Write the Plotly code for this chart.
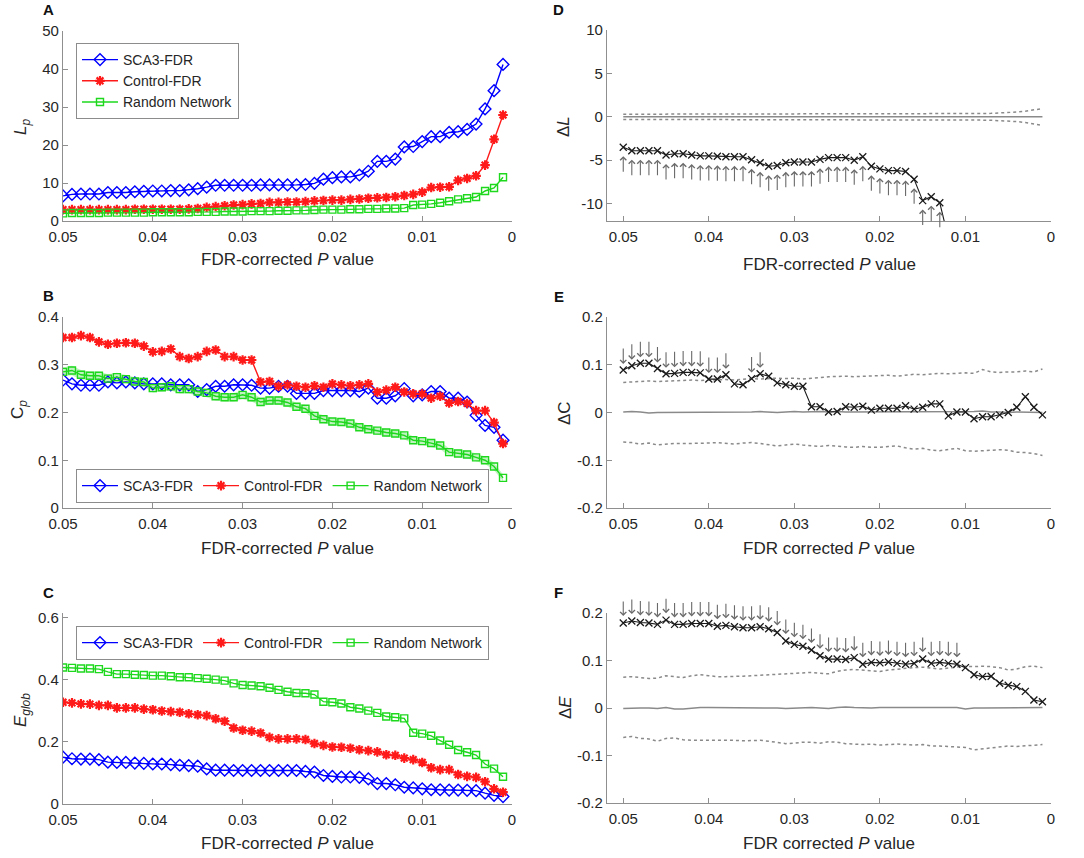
import plotly.graph_objects as go

W, H = 1084, 858

# ---------------- data ----------------
P_VALUES = [0.050, 0.049, 0.048, 0.047, 0.046, 0.045, 0.044, 0.043, 0.042, 0.041,
            0.040, 0.039, 0.038, 0.037, 0.036, 0.035, 0.034, 0.033, 0.032, 0.031,
            0.030, 0.029, 0.028, 0.027, 0.026, 0.025, 0.024, 0.023, 0.022, 0.021,
            0.020, 0.019, 0.018, 0.017, 0.016, 0.015, 0.014, 0.013, 0.012, 0.011,
            0.010, 0.009, 0.008, 0.007, 0.006, 0.005, 0.004, 0.003, 0.002, 0.001]

X_TICKS = [0.05, 0.04, 0.03, 0.02, 0.01, 0]
X_TICK_LABELS = ["0.05", "0.04", "0.03", "0.02", "0.01", "0"]

# Panel A: characteristic path length Lp
A_SCA3 = [6.6, 7.0, 7.1, 7.1, 7.1, 7.5, 7.5, 7.5, 7.7, 7.8, 7.9, 7.9, 8.0, 8.0, 8.2,
          8.5, 8.9, 9.4, 9.4, 9.4, 9.4, 9.4, 9.5, 9.5, 9.5, 9.5, 9.5, 9.6, 9.9, 11.0,
          11.4, 11.6, 11.6, 12.1, 13.1, 15.7, 15.7, 16.3, 19.5, 19.6, 20.9, 22.2, 22.2, 23.3, 23.5,
          24.1, 25.5, 29.5, 34.3, 41.2]
A_CTRL = [3.0, 3.0, 3.0, 3.0, 3.0, 3.0, 3.0, 3.0, 3.1, 3.1, 3.1, 3.1, 3.1, 3.1, 3.2,
          3.3, 3.6, 3.8, 4.0, 4.2, 4.3, 4.5, 4.6, 4.9, 4.9, 5.0, 5.0, 5.1, 5.3, 5.4,
          5.5, 5.5, 5.7, 5.8, 6.0, 6.1, 6.2, 6.4, 6.7, 7.0, 7.6, 8.8, 8.9, 9.0, 10.7,
          11.2, 11.9, 14.7, 21.5, 27.9]
A_RAND = [2.0, 2.1, 2.1, 2.1, 2.1, 2.2, 2.2, 2.2, 2.2, 2.2, 2.3, 2.3, 2.3, 2.3, 2.3,
          2.4, 2.4, 2.4, 2.5, 2.5, 2.5, 2.6, 2.6, 2.6, 2.7, 2.7, 2.8, 2.8, 2.9, 3.0,
          3.0, 3.0, 3.1, 3.1, 3.2, 3.2, 3.3, 3.3, 3.4, 4.2, 4.3, 4.5, 4.8, 5.2, 5.7,
          6.0, 6.3, 7.9, 8.7, 11.5]
A_Y_TICKS = [0, 10, 20, 30, 40, 50]
A_Y_LABELS = ["0", "10", "20", "30", "40", "50"]

# Panel B: clustering coefficient Cp
B_SCA3 = [0.268, 0.260, 0.257, 0.257, 0.257, 0.264, 0.262, 0.264, 0.262, 0.260, 0.260, 0.260, 0.258, 0.258, 0.258,
          0.244, 0.248, 0.255, 0.255, 0.258, 0.258, 0.257, 0.251, 0.251, 0.255, 0.255, 0.240, 0.240, 0.240, 0.246,
          0.246, 0.246, 0.246, 0.244, 0.251, 0.230, 0.230, 0.235, 0.250, 0.235, 0.237, 0.244, 0.244, 0.230, 0.230,
          0.222, 0.194, 0.173, 0.169, 0.142]
B_CTRL = [0.357, 0.357, 0.361, 0.357, 0.348, 0.343, 0.345, 0.346, 0.345, 0.339, 0.327, 0.328, 0.333, 0.317, 0.313,
          0.317, 0.328, 0.331, 0.317, 0.317, 0.310, 0.310, 0.264, 0.265, 0.255, 0.258, 0.255, 0.253, 0.256, 0.253,
          0.260, 0.258, 0.256, 0.258, 0.260, 0.243, 0.247, 0.253, 0.243, 0.239, 0.239, 0.230, 0.234, 0.220, 0.223,
          0.219, 0.204, 0.204, 0.179, 0.135]
B_RAND = [0.285, 0.288, 0.279, 0.277, 0.277, 0.271, 0.274, 0.270, 0.265, 0.264, 0.251, 0.253, 0.255, 0.249, 0.249,
          0.244, 0.241, 0.234, 0.232, 0.232, 0.237, 0.232, 0.222, 0.225, 0.225, 0.221, 0.212, 0.208, 0.193, 0.186,
          0.181, 0.180, 0.177, 0.169, 0.165, 0.162, 0.158, 0.156, 0.152, 0.142, 0.140, 0.136, 0.131, 0.117, 0.114,
          0.112, 0.106, 0.100, 0.087, 0.063]
B_RAND_SD = [0.009, 0.010, 0.010, 0.009, 0.009, 0.009, 0.009, 0.009, 0.009, 0.009, 0.009, 0.009, 0.009, 0.009, 0.009,
             0.009, 0.009, 0.009, 0.009, 0.009, 0.009, 0.009, 0.009, 0.009, 0.009, 0.009, 0.008, 0.008, 0.008, 0.008,
             0.008, 0.008, 0.008, 0.008, 0.008, 0.008, 0.008, 0.008, 0.008, 0.008, 0.008, 0.008, 0.008, 0.008, 0.008,
             0.008, 0.008, 0.008, 0.008, 0.007]
B_Y_TICKS = [0, 0.1, 0.2, 0.3, 0.4]
B_Y_LABELS = ["0", "0.1", "0.2", "0.3", "0.4"]

# Panel C: global efficiency Eglob
C_SCA3 = [0.151, 0.146, 0.145, 0.145, 0.143, 0.135, 0.134, 0.134, 0.132, 0.131, 0.129, 0.129, 0.127, 0.125, 0.124,
          0.122, 0.113, 0.109, 0.109, 0.108, 0.108, 0.108, 0.108, 0.108, 0.108, 0.108, 0.108, 0.105, 0.103, 0.092,
          0.089, 0.087, 0.087, 0.086, 0.081, 0.066, 0.066, 0.062, 0.054, 0.052, 0.049, 0.046, 0.046, 0.045, 0.045,
          0.044, 0.043, 0.035, 0.028, 0.024]
C_CTRL = [0.328, 0.326, 0.323, 0.322, 0.318, 0.318, 0.310, 0.310, 0.310, 0.306, 0.304, 0.300, 0.298, 0.296, 0.291,
          0.288, 0.285, 0.275, 0.267, 0.245, 0.238, 0.235, 0.229, 0.215, 0.210, 0.210, 0.210, 0.208, 0.195, 0.189,
          0.184, 0.183, 0.180, 0.175, 0.172, 0.168, 0.159, 0.157, 0.148, 0.143, 0.134, 0.117, 0.111, 0.111, 0.095,
          0.089, 0.086, 0.072, 0.049, 0.038]
C_RAND = [0.440, 0.439, 0.437, 0.437, 0.435, 0.426, 0.419, 0.419, 0.417, 0.416, 0.414, 0.414, 0.412, 0.409, 0.409,
          0.406, 0.404, 0.401, 0.398, 0.389, 0.384, 0.382, 0.380, 0.375, 0.368, 0.362, 0.358, 0.357, 0.353, 0.330,
          0.328, 0.324, 0.312, 0.308, 0.301, 0.294, 0.282, 0.280, 0.276, 0.230, 0.227, 0.220, 0.205, 0.191, 0.174,
          0.167, 0.158, 0.129, 0.114, 0.088]
C_Y_TICKS = [0, 0.2, 0.4, 0.6]
C_Y_LABELS = ["0", "0.2", "0.4", "0.6"]

# Panel D: delta L (None = off the bottom of the axis)
D_DIFF = [-3.5, -3.9, -3.9, -3.9, -3.9, -4.4, -4.25, -4.25, -4.4, -4.5, -4.5, -4.55, -4.6, -4.6, -4.6,
          -4.95, -5.3, -5.7, -5.6, -5.3, -5.2, -5.2, -5.2, -4.9, -4.7, -4.7, -4.7, -5.0, -4.6, -5.7,
          -6.0, -6.2, -6.2, -6.3, -7.2, -9.65, -9.2, -9.9, -14.0, None, None, None, None, None, None,
          None, None, None, None, None]
D_MEAN = [0.0, 0.0, 0.0, 0.0, 0.0, 0.0, 0.0, 0.0, 0.0, 0.0, 0.0, 0.0, 0.0, 0.0, 0.0,
          0.0, 0.0, 0.0, 0.0, 0.0, 0.0, 0.0, 0.0, 0.0, 0.0, 0.0, 0.0, 0.0, 0.0, 0.0,
          0.0, 0.0, 0.0, 0.0, 0.0, 0.0, 0.0, 0.0, 0.0, 0.0, 0.0, 0.0, 0.0, 0.0, 0.0,
          0.0, 0.0, 0.0, 0.0, 0.0]
D_UPPER = [0.30, 0.30, 0.30, 0.30, 0.30, 0.30, 0.30, 0.30, 0.30, 0.30, 0.30, 0.30, 0.30, 0.30, 0.30,
           0.30, 0.30, 0.30, 0.30, 0.30, 0.30, 0.30, 0.30, 0.30, 0.30, 0.31, 0.31, 0.31, 0.32, 0.32,
           0.32, 0.32, 0.32, 0.32, 0.32, 0.33, 0.33, 0.33, 0.34, 0.34, 0.35, 0.36, 0.38, 0.40, 0.43,
           0.48, 0.55, 0.65, 0.78, 0.95]
D_LOWER = [-0.30, -0.30, -0.30, -0.30, -0.30, -0.30, -0.30, -0.30, -0.30, -0.30, -0.30, -0.30, -0.30, -0.30, -0.30,
           -0.30, -0.30, -0.30, -0.30, -0.30, -0.30, -0.30, -0.30, -0.30, -0.30, -0.31, -0.31, -0.31, -0.32, -0.32,
           -0.32, -0.32, -0.32, -0.32, -0.32, -0.33, -0.33, -0.33, -0.34, -0.34, -0.35, -0.36, -0.38, -0.40, -0.43,
           -0.48, -0.55, -0.65, -0.80, -1.00]
D_SIG = [1, 1, 1, 1, 1, 1, 1, 1, 1, 1, 1, 1, 1, 1, 1,
         1, 1, 1, 1, 1, 1, 1, 1, 1, 1, 1, 1, 1, 1, 1,
         1, 1, 1, 1, 1, 1, 1, 1, 0, 0, 0, 0, 0, 0, 0,
         0, 0, 0, 0, 0]
D_Y_TICKS = [-10, -5, 0, 5, 10]
D_Y_LABELS = ["-10", "-5", "0", "5", "10"]

# Panel E: delta C
E_DIFF = [0.089, 0.098, 0.103, 0.103, 0.092, 0.081, 0.082, 0.084, 0.084, 0.083, 0.070, 0.070, 0.079, 0.060, 0.058,
          0.071, 0.081, 0.076, 0.062, 0.058, 0.055, 0.055, 0.012, 0.012, 0.001, 0.002, 0.012, 0.011, 0.013, 0.005,
          0.009, 0.009, 0.009, 0.014, 0.007, 0.011, 0.018, 0.018, -0.007, 0.001, 0.001, -0.013, -0.009, -0.009, -0.005,
          0.000, 0.011, 0.033, 0.011, -0.005]
E_MEAN = [0.001, 0.002, 0.001, -0.001, 0.000, 0.000, 0.000, 0.001, 0.000, 0.000, 0.000, 0.000, 0.001, 0.001, 0.001,
          0.001, 0.002, 0.001, 0.000, 0.001, 0.002, 0.001, 0.002, 0.002, 0.001, 0.002, 0.001, 0.001, 0.002, 0.001,
          0.001, 0.002, 0.002, 0.001, 0.002, 0.002, 0.001, 0.001, 0.001, 0.001, 0.001, 0.002, 0.003, 0.001, 0.001,
          0.000, 0.001, 0.001, 0.001, 0.000]
E_UPPER = [0.063, 0.064, 0.065, 0.066, 0.065, 0.066, 0.067, 0.067, 0.068, 0.067, 0.068, 0.069, 0.069, 0.068, 0.070,
           0.071, 0.070, 0.071, 0.072, 0.071, 0.072, 0.070, 0.071, 0.073, 0.075, 0.076, 0.076, 0.075, 0.076, 0.077,
           0.077, 0.078, 0.076, 0.078, 0.080, 0.079, 0.080, 0.082, 0.081, 0.082, 0.083, 0.082, 0.090, 0.085, 0.084,
           0.085, 0.085, 0.087, 0.085, 0.091]
E_LOWER = [-0.062, -0.063, -0.066, -0.064, -0.068, -0.066, -0.065, -0.065, -0.065, -0.064, -0.064, -0.063, -0.065, -0.066, -0.064,
           -0.063, -0.065, -0.068, -0.070, -0.068, -0.066, -0.068, -0.070, -0.071, -0.069, -0.071, -0.072, -0.073, -0.071, -0.073,
           -0.073, -0.071, -0.070, -0.074, -0.077, -0.075, -0.079, -0.080, -0.077, -0.075, -0.080, -0.081, -0.080, -0.079, -0.078,
           -0.079, -0.083, -0.084, -0.086, -0.090]
E_SIG = [1, 1, 1, 1, 1, 1, 1, 1, 1, 1, 1, 1, 1, 0, 0,
         1, 1, 0, 0, 0, 0, 0, 0, 0, 0, 0, 0, 0, 0, 0,
         0, 0, 0, 0, 0, 0, 0, 0, 0, 0, 0, 0, 0, 0, 0,
         0, 0, 0, 0, 0]
DIFF_Y_TICKS = [-0.2, -0.1, 0, 0.1, 0.2]
DIFF_Y_LABELS = ["-0.2", "-0.1", "0", "0.1", "0.2"]

# Panel F: delta E
F_DIFF = [0.179, 0.183, 0.180, 0.179, 0.176, 0.185, 0.176, 0.176, 0.178, 0.178, 0.178, 0.172, 0.174, 0.171, 0.169,
          0.169, 0.171, 0.167, 0.159, 0.141, 0.134, 0.130, 0.122, 0.110, 0.103, 0.103, 0.102, 0.106, 0.092, 0.096,
          0.095, 0.097, 0.094, 0.092, 0.094, 0.103, 0.094, 0.096, 0.094, 0.092, 0.085, 0.070, 0.066, 0.067, 0.052,
          0.048, 0.045, 0.035, 0.017, 0.013]
F_MEAN = [-0.001, 0.000, 0.000, 0.000, -0.001, 0.001, -0.002, -0.002, 0.000, 0.001, 0.001, 0.001, 0.001, 0.000, 0.000,
          0.000, 0.001, 0.000, 0.000, -0.001, 0.000, 0.000, 0.001, 0.000, -0.001, 0.001, 0.002, 0.001, 0.000, 0.000,
          0.001, 0.001, 0.000, 0.000, 0.001, 0.001, 0.001, 0.000, 0.000, 0.001, -0.002, 0.000, 0.000, 0.000, 0.000,
          0.000, 0.001, 0.001, 0.001, 0.001]
F_UPPER = [0.065, 0.066, 0.064, 0.062, 0.063, 0.068, 0.066, 0.064, 0.068, 0.070, 0.068, 0.066, 0.066, 0.066, 0.067,
           0.068, 0.069, 0.070, 0.071, 0.072, 0.073, 0.074, 0.075, 0.073, 0.072, 0.077, 0.080, 0.081, 0.080, 0.079,
           0.077, 0.080, 0.082, 0.083, 0.085, 0.086, 0.084, 0.082, 0.084, 0.086, 0.088, 0.087, 0.088, 0.087, 0.085,
           0.080, 0.082, 0.087, 0.088, 0.085]
F_LOWER = [-0.062, -0.060, -0.064, -0.065, -0.070, -0.064, -0.063, -0.067, -0.068, -0.068, -0.067, -0.067, -0.068, -0.068, -0.069,
           -0.068, -0.068, -0.070, -0.073, -0.075, -0.074, -0.072, -0.072, -0.074, -0.071, -0.072, -0.075, -0.076, -0.077, -0.076,
           -0.078, -0.077, -0.076, -0.077, -0.078, -0.077, -0.080, -0.080, -0.081, -0.082, -0.083, -0.088, -0.086, -0.084, -0.082,
           -0.080, -0.081, -0.080, -0.079, -0.077]
F_SIG = [1, 1, 1, 1, 1, 1, 1, 1, 1, 1, 1, 1, 1, 1, 1,
         1, 1, 1, 1, 1, 1, 1, 1, 1, 1, 1, 1, 1, 1, 1,
         1, 1, 1, 1, 1, 1, 1, 1, 1, 1, 0, 0, 0, 0, 0,
         0, 0, 0, 0, 0]

SERIES_NAMES = ["SCA3-FDR", "Control-FDR", "Random Network"]

# ---------------- style ----------------
FONT = "Liberation Sans, Arial, sans-serif"
TXT = "#262626"
AXC = "#8f8f8f"
BLUE = "#0000ff"
RED = "#ff1a1a"
GREEN = "#1ed81e"
GREY = "#8a8a8a"
ARROW = "#6a6a6a"


def px(x):
    return x / W


def py(y):
    return 1 - y / H


fig = go.Figure()

LEFT_X = [px(63), px(512)]
RIGHT_X = [px(607), px(1051)]

panels = {
    "A": ("x", "y", LEFT_X, (31, 221), [0.05, 0], [0, 50], A_Y_TICKS, A_Y_LABELS),
    "B": ("x2", "y2", LEFT_X, (317, 508), [0.05, 0], [0, 0.4], B_Y_TICKS, B_Y_LABELS),
    "C": ("x3", "y3", LEFT_X, (613, 804), [0.05, 0], [0, 0.616], C_Y_TICKS, C_Y_LABELS),
    "D": ("x4", "y4", RIGHT_X, (30, 221), [0.0519, 0], [-12, 10], D_Y_TICKS, D_Y_LABELS),
    "E": ("x5", "y5", RIGHT_X, (317, 508), [0.0519, 0], [-0.2, 0.2], DIFF_Y_TICKS, DIFF_Y_LABELS),
    "F": ("x6", "y6", RIGHT_X, (613, 803), [0.0519, 0], [-0.2, 0.2], DIFF_Y_TICKS, DIFF_Y_LABELS),
}

layout_axes = {}
for name, (xa, ya, xdom, (ytop, ybot), xr, yr, yt, yl) in panels.items():
    xkey = "xaxis" if xa == "x" else "xaxis" + xa[1:]
    ykey = "yaxis" if ya == "y" else "yaxis" + ya[1:]
    common = dict(showline=True, linecolor=AXC, linewidth=1.3, ticks="inside", ticklen=5,
                  tickcolor=AXC, tickwidth=1.2, showgrid=False, zeroline=False, automargin=False,
                  tickfont=dict(family=FONT, size=15, color=TXT), mirror=False, fixedrange=True)
    layout_axes[xkey] = dict(domain=xdom, anchor=ya, range=xr, tickmode="array",
                             tickvals=X_TICKS, ticktext=X_TICK_LABELS, ticklabelstandoff=2, **common)
    layout_axes[ykey] = dict(domain=[py(ybot), py(ytop)], anchor=xa, range=yr, tickmode="array",
                             tickvals=yt, ticktext=yl, **common)


def group_traces(xa, ya, sca3, ctrl, rand, legend):
    fig.add_trace(go.Scatter(x=P_VALUES, y=sca3, mode="lines+markers", name=SERIES_NAMES[0],
                             line=dict(color=BLUE, width=1.4),
                             marker=dict(symbol="diamond-open", size=9, color=BLUE, line=dict(width=1.4)),
                             xaxis=xa, yaxis=ya, legend=legend))
    fig.add_trace(go.Scatter(x=P_VALUES, y=ctrl, mode="lines+markers", name=SERIES_NAMES[1],
                             line=dict(color=RED, width=1.4),
                             marker=dict(symbol="asterisk-open", size=8, color=RED, line=dict(width=2.2, color=RED)),
                             xaxis=xa, yaxis=ya, legend=legend))
    fig.add_trace(go.Scatter(x=P_VALUES, y=rand, mode="lines+markers", name=SERIES_NAMES[2],
                             line=dict(color=GREEN, width=1.4),
                             marker=dict(symbol="square-open", size=7, color=GREEN, line=dict(width=1.4)),
                             xaxis=xa, yaxis=ya, legend=legend))


# green SD band in panel B
band_hi = [m + s for m, s in zip(B_RAND, B_RAND_SD)]
band_lo = [m - s for m, s in zip(B_RAND, B_RAND_SD)]
fig.add_trace(go.Scatter(x=P_VALUES, y=band_hi, mode="lines", line=dict(width=0, color="rgba(0,0,0,0)"),
                         showlegend=False, hoverinfo="skip", xaxis="x2", yaxis="y2"))
fig.add_trace(go.Scatter(x=P_VALUES, y=band_lo, mode="lines", line=dict(width=0, color="rgba(0,0,0,0)"),
                         fill="tonexty", fillcolor="rgba(60,215,60,0.32)",
                         showlegend=False, hoverinfo="skip", xaxis="x2", yaxis="y2"))

group_traces("x", "y", A_SCA3, A_CTRL, A_RAND, "legend")
group_traces("x2", "y2", B_SCA3, B_CTRL, B_RAND, "legend2")
group_traces("x3", "y3", C_SCA3, C_CTRL, C_RAND, "legend3")

annotations = []


def diff_panel(xa, ya, diff, mean, upper, lower, sig, direction, standoff, length):
    fig.add_trace(go.Scatter(x=P_VALUES, y=mean, mode="lines", line=dict(color=GREY, width=1.5),
                             showlegend=False, xaxis=xa, yaxis=ya))
    fig.add_trace(go.Scatter(x=P_VALUES, y=upper, mode="lines", line=dict(color=GREY, width=1.5, dash="dot"),
                             showlegend=False, xaxis=xa, yaxis=ya))
    fig.add_trace(go.Scatter(x=P_VALUES, y=lower, mode="lines", line=dict(color=GREY, width=1.5, dash="dot"),
                             showlegend=False, xaxis=xa, yaxis=ya))
    fig.add_trace(go.Scatter(x=P_VALUES, y=diff, mode="lines+markers", line=dict(color="#1a1a1a", width=1.1),
                             marker=dict(symbol="x-thin-open", size=7, color="#1a1a1a", line=dict(width=1.3)),
                             showlegend=False, xaxis=xa, yaxis=ya, connectgaps=False))
    for p, v, s in zip(P_VALUES, diff, sig):
        if s and v is not None:
            annotations.append(dict(x=p, y=v, xref=xa, yref=ya, text="", showarrow=True,
                                    ax=0, ay=length * direction, axref="pixel", ayref="pixel",
                                    standoff=standoff, arrowhead=4, arrowsize=1.1, arrowwidth=1.1,
                                    arrowcolor=ARROW))


# direction: +1 tail below (arrow points up), -1 tail above (arrow points down)
diff_panel("x4", "y4", D_DIFF, D_MEAN, D_UPPER, D_LOWER, D_SIG, +1, 9, 26)
diff_panel("x5", "y5", E_DIFF, E_MEAN, E_UPPER, E_LOWER, E_SIG, -1, 6, 23)
diff_panel("x6", "y6", F_DIFF, F_MEAN, F_UPPER, F_LOWER, F_SIG, -1, 7, 23)

# axis titles
xtitles = [
    ("FDR-corrected <i>P</i> value", 287, 260),
    ("FDR-corrected <i>P</i> value", 287, 548),
    ("FDR-corrected <i>P</i> value", 287, 843),
    ("FDR-corrected <i>P</i> value", 829, 264),
    ("FDR corrected <i>P</i> value", 829, 548),
    ("FDR corrected <i>P</i> value", 829, 843),
]
for t, xx, yy in xtitles:
    annotations.append(dict(text=t, x=px(xx), y=py(yy), xref="paper", yref="paper", showarrow=False,
                            xanchor="center", yanchor="middle",
                            font=dict(family=FONT, size=17, color=TXT)))

ytitles = [
    ("<i>L</i><sub><i>p</i></sub>", 22, 127),
    ("C<sub><i>p</i></sub>", 19, 410),
    ("<i>E</i><sub><i>glob</i></sub>", 22, 710),
    ("Δ<i>L</i>", 563, 127),
    ("ΔC", 565, 413),
    ("Δ<i>E</i>", 565, 708),
]
for t, xx, yy in ytitles:
    annotations.append(dict(text=t, x=px(xx), y=py(yy), xref="paper", yref="paper", showarrow=False,
                            xanchor="center", yanchor="middle", textangle=-90,
                            font=dict(family=FONT, size=17, color=TXT)))

letters = [("A", 48, 9), ("B", 48, 295), ("C", 48, 592), ("D", 558, 9), ("E", 559, 296), ("F", 558, 592)]
for t, xx, yy in letters:
    annotations.append(dict(text="<b>%s</b>" % t, x=px(xx), y=py(yy), xref="paper", yref="paper",
                            showarrow=False, xanchor="center", yanchor="middle",
                            font=dict(family=FONT, size=15, color="#111111")))

legend_common = dict(bgcolor="white", bordercolor="#8c8c8c", borderwidth=1,
                     font=dict(family=FONT, size=14, color=TXT), xanchor="left", yanchor="top",
                     itemwidth=36, itemclick=False, itemdoubleclick=False, traceorder="normal")

fig.update_layout(
    width=W, height=H,
    margin=dict(l=0, r=0, t=0, b=0, pad=0, autoexpand=False),
    paper_bgcolor="white", plot_bgcolor="white",
    showlegend=True,
    legend=dict(x=px(76), y=py(43), orientation="v", tracegroupgap=0, **legend_common),
    legend2=dict(x=px(76), y=py(469), orientation="h", **legend_common),
    legend3=dict(x=px(76), y=py(626), orientation="h", **legend_common),
    annotations=annotations,
    **layout_axes,
)

fig.write_html("out.html", config={"displayModeBar": False},
               post_script="document.body.style.margin='0px';")
